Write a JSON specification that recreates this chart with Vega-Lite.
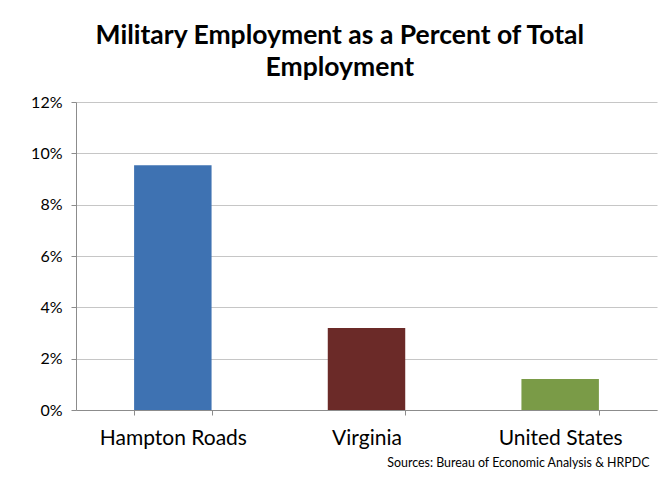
{
  "$schema": "https://vega.github.io/schema/vega-lite/v6.json",
  "autosize": {"type": "none"},
  "width": 581,
  "height": 308,
  "padding": {"left": 76, "top": 102, "right": 8, "bottom": 69},
  "background": "white",
  "title": {
    "text": ["Military Employment as a Percent of Total", "Employment"],
    "font": "Lato",
    "fontSize": 26.5,
    "fontWeight": "bold",
    "color": "#000000",
    "anchor": "middle",
    "frame": "bounds",
    "lineHeight": 32,
    "offset": 13,
    "dx": -4
  },
  "data": {
    "values": [
      {"region": "Hampton Roads", "pct": 0.0954},
      {"region": "Virginia", "pct": 0.0319},
      {"region": "United States", "pct": 0.0121}
    ]
  },
  "mark": {"type": "bar", "stroke": null},
  "encoding": {
    "x": {
      "field": "region",
      "type": "nominal",
      "sort": null,
      "scale": {"paddingInner": 0.6, "paddingOuter": 0.3},
      "axis": {
        "title": "Sources: Bureau of Economic Analysis & HRPDC",
        "titleFont": "Lato",
        "titleFontSize": 12.4,
        "titleFontWeight": "normal",
        "titleColor": "#000000",
        "titleAnchor": "end",
        "titleAlign": "right",
        "titleX": 573,
        "titlePadding": 8,
        "labelAngle": 0,
        "labelFont": "Lato",
        "labelFontSize": 21,
        "labelColor": "#000000",
        "labelPadding": 12,
        "grid": false,
        "tickBand": "extent",
        "tickSize": 5,
        "tickColor": "#8c8c8c",
        "domainColor": "#8c8c8c"
      }
    },
    "y": {
      "field": "pct",
      "type": "quantitative",
      "scale": {"domain": [0, 0.12], "nice": false},
      "axis": {
        "title": null,
        "values": [0, 0.02, 0.04, 0.06, 0.08, 0.1, 0.12],
        "format": ".0%",
        "labelFont": "Lato",
        "labelFontSize": 16,
        "labelColor": "#000000",
        "labelPadding": 9,
        "tickSize": 5,
        "tickColor": "#8c8c8c",
        "domainColor": "#8c8c8c",
        "gridColor": "#c6c6c6"
      }
    },
    "color": {
      "field": "region",
      "type": "nominal",
      "legend": null,
      "scale": {
        "domain": ["Hampton Roads", "Virginia", "United States"],
        "range": ["#3e72b2", "#6b2a28", "#7a9b47"]
      }
    }
  },
  "config": {"view": {"stroke": null}}
}
